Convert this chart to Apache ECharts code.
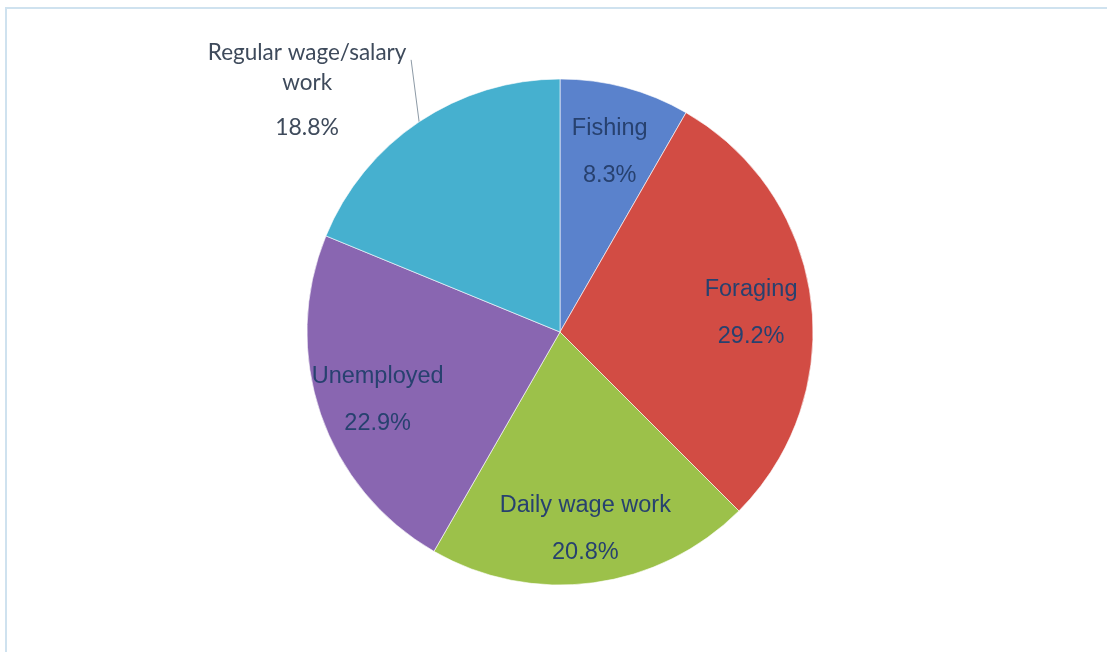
<!DOCTYPE html>
<html>
<head>
<meta charset="utf-8">
<title>Livelihood</title>
<script src="https://cdn.jsdelivr.net/npm/echarts@6/dist/echarts.min.js"></script>
<style>
	html, body { margin: 0; padding: 0; background: #fff; }
	#chart { width: 1107px; height: 652px; }
</style>
</head>
<body>
<div id="chart"></div>
<script>
	// data
	var categories = ['Fishing', 'Foraging', 'Daily wage work', 'Unemployed', 'Regular wage/salary\nwork'];
	var shares = [8.3, 29.2, 20.8, 22.9, 18.8];
	var colors = ['#5a82cc', '#d24c44', '#9cc14a', '#8966b1', '#46b0cf'];
	var outsideIdx = 4; // this one sits outside the pie with a leader line

	var pieR = 253;
	var pieCenter = [560, 332];

	var chart = echarts.init(document.getElementById('chart'));

	// colored slices, only the outside label
	var pieData = categories.map(function (name, i) {
		return {
			name: name,
			value: shares[i],
			itemStyle: { color: colors[i] },
			label: { show: i === outsideIdx },
			labelLine: { show: i === outsideIdx }
		};
	});
	// transparent bigger pie, used only to push inner labels out to ~0.75r
	var labelData = categories.map(function (name, i) {
		return {
			name: name,
			value: shares[i],
			label: { show: i !== outsideIdx }
		};
	});

	var option = {
		backgroundColor: '#fff',
		animation: false,
		graphic: [{
			type: 'rect',
			shape: { x: 6, y: 8, width: 1200, height: 800 },
			style: { fill: 'none', stroke: '#cfe2ef', lineWidth: 2 },
			silent: true
		}],
		series: [
			{
				type: 'pie',
				center: pieCenter,
				radius: [0, pieR],
				startAngle: 90,
				clockwise: true,
				avoidLabelOverlap: false,
				emphasis: { disabled: true },
				itemStyle: { borderColor: 'rgba(255,255,255,0.6)', borderWidth: 1 },
				label: {
					position: 'outside',
					formatter: '{n|{b}}\n{p|{c}%}',
					rich: {
						n: { fontFamily: 'Lato', fontSize: 22.5, color: '#3e4a5b', lineHeight: 30, align: 'center' },
						p: { fontFamily: 'Lato', fontSize: 23, color: '#3e4a5b', lineHeight: 60, align: 'center' }
					}
				},
				labelLine: { lineStyle: { color: '#8d9aa6', width: 1 } },
				labelLayout: function (params) {
					if (params.dataIndex !== outsideIdx) return {};
					var p0 = params.labelLinePoints[0];
					var end = [p0[0] - 8, p0[1] - 62];
					return {
						x: end[0] - 104,
						y: end[1] - 22,
						align: 'center',
						verticalAlign: 'top',
						labelLinePoints: [p0, end, end]
					};
				},
				data: pieData
			},
			{
				type: 'pie',
				center: pieCenter,
				radius: [0, pieR * 1.5],
				startAngle: 90,
				clockwise: true,
				silent: true,
				avoidLabelOverlap: false,
				itemStyle: { color: 'rgba(0,0,0,0)' },
				label: {
					position: 'inside',
					formatter: '{n|{b}}\n{n|{c}%}',
					padding: [12, 0, 0, 0],
					rich: {
						n: { fontFamily: 'Liberation Sans', fontSize: 23.5, color: '#27416f', lineHeight: 47, align: 'center' }
					}
				},
				labelLine: { show: false },
				data: labelData
			}
		]
	};
	chart.setOption(option);
</script>
</body>
</html>
